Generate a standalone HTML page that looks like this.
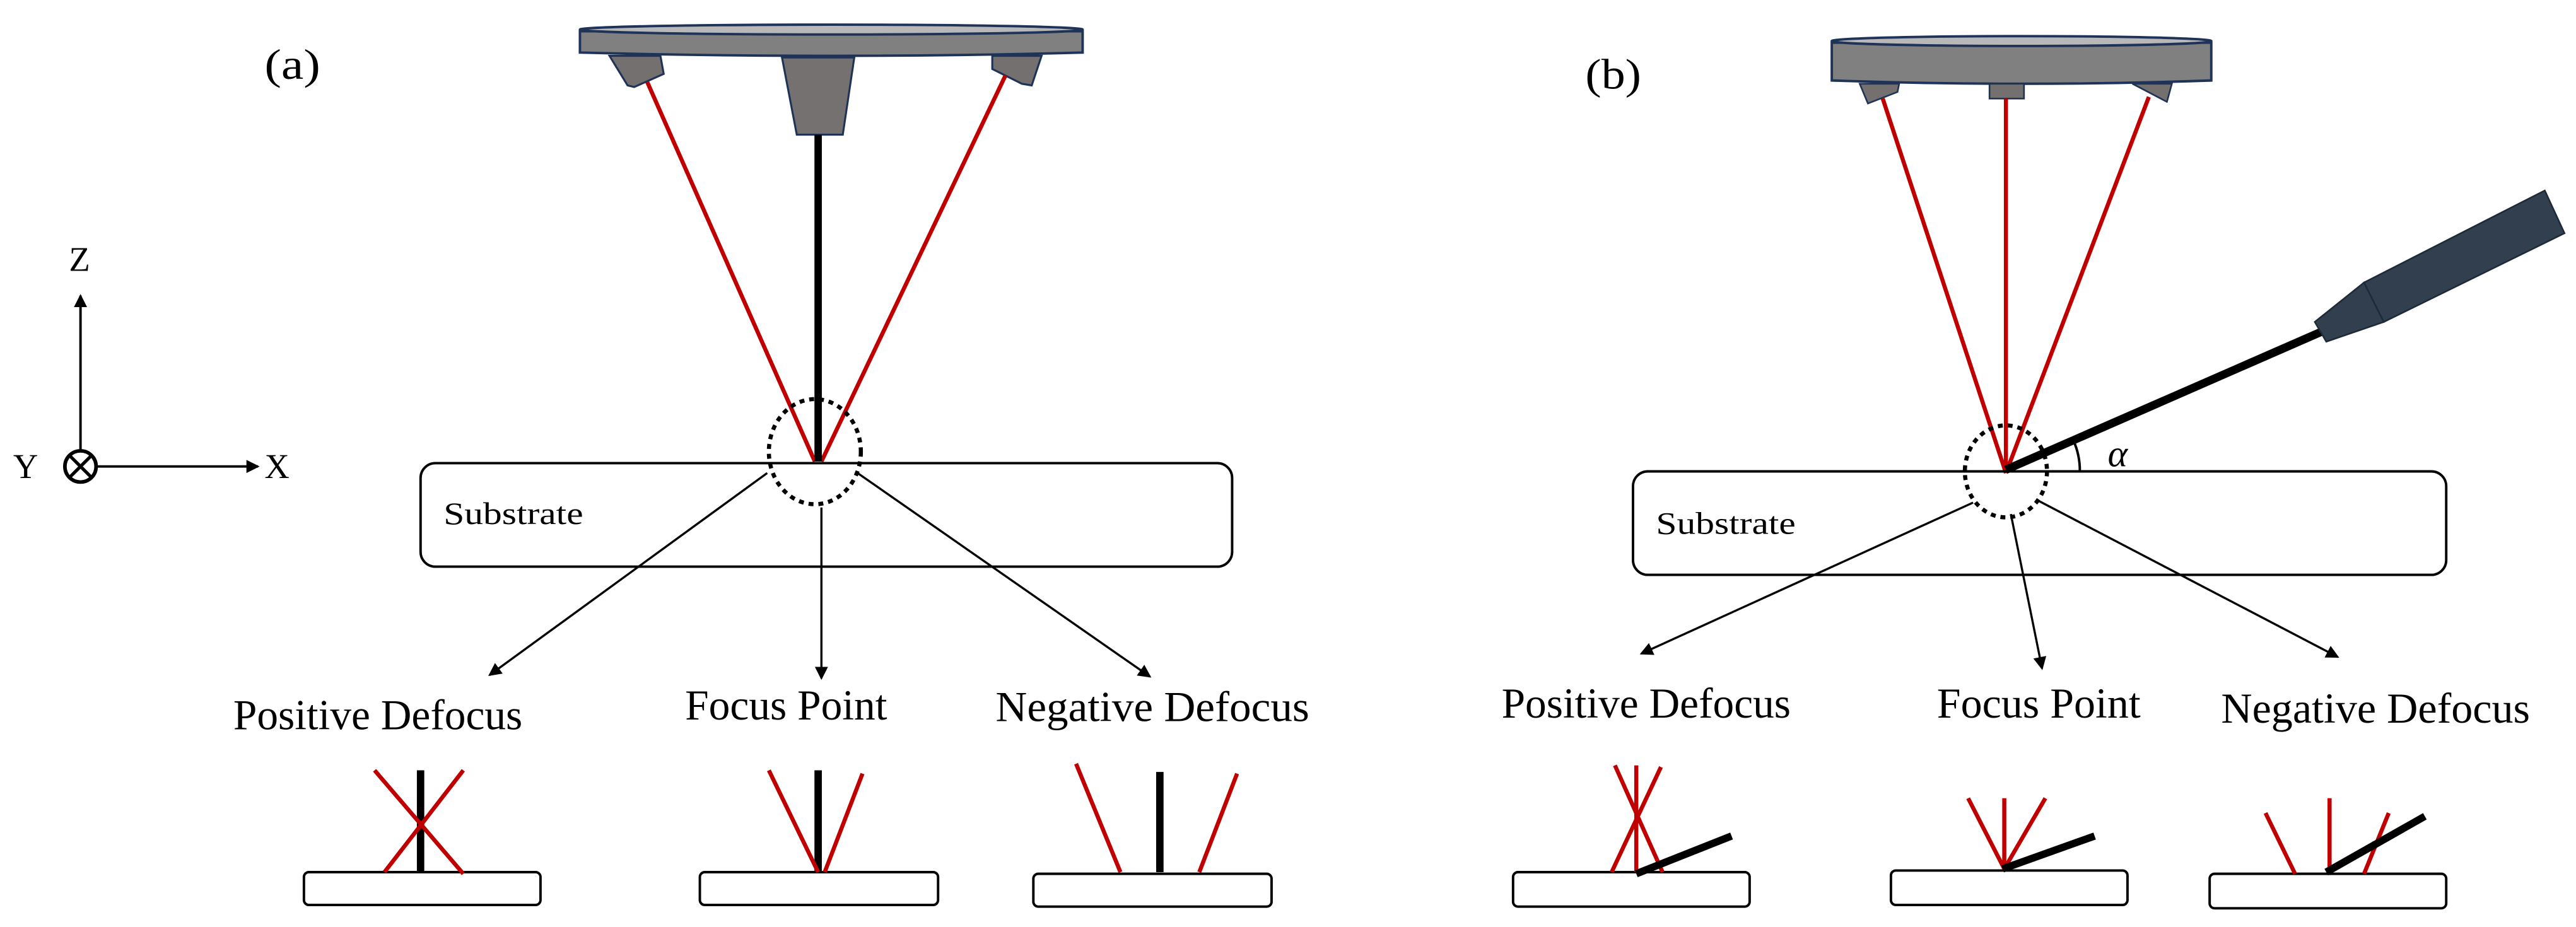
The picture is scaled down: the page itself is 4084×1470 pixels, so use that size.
<!DOCTYPE html>
<html><head><meta charset="utf-8"><style>
html,body{margin:0;padding:0;background:#fff;}
svg{display:block;}
text{font-family:"Liberation Serif",serif;fill:#000;}
</style></head><body>
<svg width="4084" height="1470" viewBox="0 0 1568 564.4" preserveAspectRatio="none" xmlns="http://www.w3.org/2000/svg">
<defs>
<marker id="ah" markerWidth="8" markerHeight="8" refX="7" refY="4" orient="auto" markerUnits="userSpaceOnUse"><path d="M0,0 L8,4 L0,8 z" fill="#000"/></marker>
</defs>

<!-- ===== (a) ===== -->
<text x="161" y="48" font-size="26" textLength="34" lengthAdjust="spacingAndGlyphs">(a)</text>
<path d="M353,19 L353,32 Q506,36 659,32 L659,19 Z" fill="#808080" stroke="#1f3257" stroke-width="1.5"/>
<ellipse cx="506" cy="18" rx="153" ry="3" fill="#b8b8b8" stroke="#1f3257" stroke-width="1.5"/>
<path d="M371,34 L402,34 L404,45 L386,53 L382,52 Z" fill="#747070" stroke="#1f3257" stroke-width="1.2"/>
<path d="M476,35 L520,35 L513,82 L485,82 Z" fill="#767171" stroke="#1f3257" stroke-width="1.2"/>
<path d="M604,34 L634,34 L628,52 L622,51 L604,42 Z" fill="#747070" stroke="#1f3257" stroke-width="1.2"/>
<line x1="394" y1="50" x2="496" y2="281" stroke="#c00000" stroke-width="2.5"/>
<line x1="612" y1="46" x2="500" y2="281" stroke="#c00000" stroke-width="2.5"/>
<line x1="498" y1="82" x2="498" y2="281" stroke="#000" stroke-width="4.5"/>
<rect x="256" y="282" width="494" height="63" rx="9" fill="none" stroke="#000" stroke-width="1.5"/>
<text x="270" y="319" font-size="19" textLength="85" lengthAdjust="spacingAndGlyphs">Substrate</text>
<ellipse cx="496" cy="275" rx="28" ry="32" fill="none" stroke="#000" stroke-width="2.5" stroke-dasharray="3,3"/>
<text x="42" y="165" font-size="21">Z</text>
<line x1="49" y1="274" x2="49" y2="180" stroke="#000" stroke-width="1.5" marker-end="url(#ah)"/>
<circle cx="49" cy="284" r="9.5" fill="#fff" stroke="#000" stroke-width="2.2"/>
<line x1="43" y1="278" x2="55" y2="290" stroke="#000" stroke-width="2"/>
<line x1="55" y1="278" x2="43" y2="290" stroke="#000" stroke-width="2"/>
<line x1="59" y1="284" x2="157" y2="284" stroke="#000" stroke-width="1.5" marker-end="url(#ah)"/>
<text x="8" y="291" font-size="21">Y</text>
<text x="161" y="291" font-size="21">X</text>
<line x1="467" y1="288" x2="298" y2="411" stroke="#000" stroke-width="1.3" marker-end="url(#ah)"/>
<line x1="500" y1="309" x2="500" y2="413" stroke="#000" stroke-width="1.3" marker-end="url(#ah)"/>
<line x1="522" y1="288" x2="700" y2="412" stroke="#000" stroke-width="1.3" marker-end="url(#ah)"/>
<text x="142" y="444" font-size="26" textLength="176" lengthAdjust="spacingAndGlyphs">Positive Defocus</text>
<text x="417" y="438" font-size="26" textLength="123" lengthAdjust="spacingAndGlyphs">Focus Point</text>
<text x="606" y="439" font-size="26" textLength="191" lengthAdjust="spacingAndGlyphs">Negative Defocus</text>
<rect x="185" y="531" width="144" height="20" rx="3" fill="#fff" stroke="#000" stroke-width="1.5"/>
<line x1="256" y1="469" x2="256" y2="531" stroke="#000" stroke-width="4.5"/>
<line x1="228" y1="469" x2="282" y2="532" stroke="#c00000" stroke-width="2.5"/>
<line x1="282" y1="469" x2="234" y2="531" stroke="#c00000" stroke-width="2.5"/>
<rect x="426" y="531" width="145" height="20" rx="3" fill="#fff" stroke="#000" stroke-width="1.5"/>
<line x1="498" y1="469" x2="498" y2="531" stroke="#000" stroke-width="4.5"/>
<line x1="468" y1="469" x2="498" y2="531" stroke="#c00000" stroke-width="2.5"/>
<line x1="525" y1="471" x2="502" y2="531" stroke="#c00000" stroke-width="2.5"/>
<rect x="629" y="532" width="145" height="20" rx="3" fill="#fff" stroke="#000" stroke-width="1.5"/>
<line x1="706" y1="470" x2="706" y2="531" stroke="#000" stroke-width="4.5"/>
<line x1="655" y1="465" x2="682" y2="531" stroke="#c00000" stroke-width="2.5"/>
<line x1="753" y1="471" x2="730" y2="531" stroke="#c00000" stroke-width="2.5"/>

<!-- ===== (b) ===== -->
<text x="965" y="54" font-size="26" textLength="34" lengthAdjust="spacingAndGlyphs">(b)</text>
<path d="M1115,26 L1115,49 Q1231,53 1346,49 L1346,26 Z" fill="#808080" stroke="#1f3257" stroke-width="1.5"/>
<ellipse cx="1230.5" cy="25" rx="115.5" ry="3" fill="#b8b8b8" stroke="#1f3257" stroke-width="1.5"/>
<path d="M1132,51 L1156,51 L1155,56 L1137,63 Z" fill="#747070" stroke="#1f3257" stroke-width="1"/>
<path d="M1211,51 L1232,51 L1232,60 L1211,60 Z" fill="#747070" stroke="#1f3257" stroke-width="1"/>
<path d="M1298,51 L1322,51 L1319,62 Z" fill="#747070" stroke="#1f3257" stroke-width="1"/>
<line x1="1146" y1="60" x2="1221" y2="288" stroke="#c00000" stroke-width="2.5"/>
<line x1="1221" y1="60" x2="1221" y2="288" stroke="#c00000" stroke-width="2.5"/>
<line x1="1308" y1="59" x2="1221" y2="288" stroke="#c00000" stroke-width="2.5"/>
<rect x="994" y="287" width="495" height="63" rx="9" fill="none" stroke="#000" stroke-width="1.5"/>
<text x="1008" y="325" font-size="19" textLength="85" lengthAdjust="spacingAndGlyphs">Substrate</text>
<line x1="1221" y1="286" x2="1413" y2="202" stroke="#000" stroke-width="5"/>
<path d="M1409,196 L1439,172 L1451,196 L1416,208 Z" fill="#323f4f" stroke="#1f2a38" stroke-width="1"/>
<path d="M1439,172 L1549,116 L1561,142 L1451,196 Z" fill="#323f4f" stroke="#1f2a38" stroke-width="1"/>
<path d="M1266,287 A45,45 0 0 0 1262,268" fill="none" stroke="#000" stroke-width="1.5"/>
<text x="1283" y="284" font-size="23" font-style="italic">α</text>
<ellipse cx="1221" cy="287" rx="25" ry="28" fill="none" stroke="#000" stroke-width="2.5" stroke-dasharray="3,3"/>
<line x1="1201" y1="306" x2="999" y2="398" stroke="#000" stroke-width="1.3" marker-end="url(#ah)"/>
<line x1="1224" y1="313" x2="1243" y2="407" stroke="#000" stroke-width="1.3" marker-end="url(#ah)"/>
<line x1="1241" y1="305" x2="1423" y2="400" stroke="#000" stroke-width="1.3" marker-end="url(#ah)"/>
<text x="914" y="437" font-size="26" textLength="176" lengthAdjust="spacingAndGlyphs">Positive Defocus</text>
<text x="1179" y="437" font-size="26" textLength="124" lengthAdjust="spacingAndGlyphs">Focus Point</text>
<text x="1352" y="440" font-size="26" textLength="188" lengthAdjust="spacingAndGlyphs">Negative Defocus</text>
<rect x="921" y="531" width="144" height="21" rx="3" fill="#fff" stroke="#000" stroke-width="1.5"/>
<line x1="983" y1="466" x2="1012" y2="531" stroke="#c00000" stroke-width="2.5"/>
<line x1="1011" y1="467" x2="981" y2="531" stroke="#c00000" stroke-width="2.5"/>
<line x1="996" y1="466" x2="996" y2="531" stroke="#c00000" stroke-width="2.5"/>
<line x1="996" y1="532" x2="1054" y2="509" stroke="#000" stroke-width="4.5"/>
<rect x="1151" y="530" width="144" height="21" rx="3" fill="#fff" stroke="#000" stroke-width="1.5"/>
<line x1="1198" y1="486" x2="1220" y2="529" stroke="#c00000" stroke-width="2.5"/>
<line x1="1220" y1="486" x2="1220" y2="529" stroke="#c00000" stroke-width="2.5"/>
<line x1="1245" y1="486" x2="1220" y2="529" stroke="#c00000" stroke-width="2.5"/>
<line x1="1219" y1="529" x2="1275" y2="509" stroke="#000" stroke-width="4.5"/>
<rect x="1345" y="532" width="144" height="21" rx="3" fill="#fff" stroke="#000" stroke-width="1.5"/>
<line x1="1379" y1="495" x2="1397" y2="532" stroke="#c00000" stroke-width="2.5"/>
<line x1="1418" y1="486" x2="1418" y2="531" stroke="#c00000" stroke-width="2.5"/>
<line x1="1454" y1="495" x2="1439" y2="532" stroke="#c00000" stroke-width="2.5"/>
<line x1="1416" y1="531" x2="1476" y2="497" stroke="#000" stroke-width="4.5"/>
</svg>
</body></html>
